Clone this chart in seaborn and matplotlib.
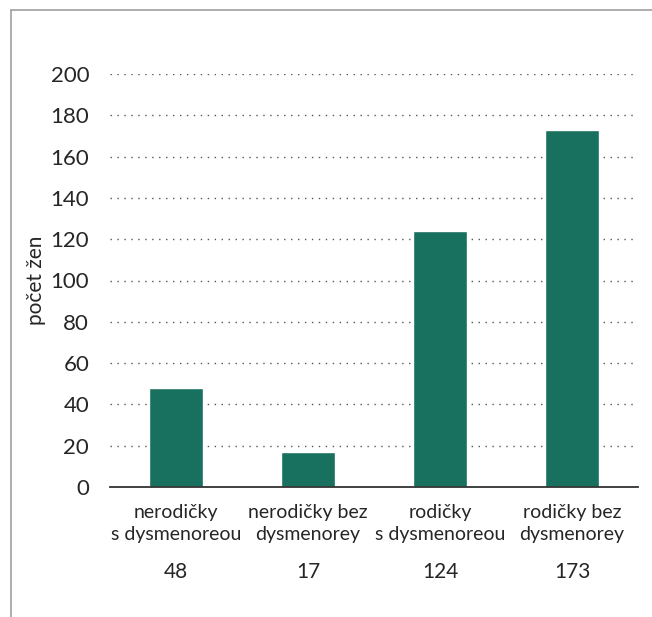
import numpy as np
import matplotlib.pyplot as plt
import seaborn as sns
import pandas as pd
from matplotlib.lines import Line2D

categories = ["nerodičky\ns dysmenoreou", "nerodičky bez\ndysmenorey",
              "rodičky\ns dysmenoreou", "rodičky bez\ndysmenorey"]
counts = [48, 17, 124, 173]
yticks = [0, 20, 40, 60, 80, 100, 120, 140, 160, 180, 200]
ylabel = "počet žen"

BAR_COLOR = "#18705e"
TEXT_COLOR = "#262626"
TICKSIZE = 16
LABELSIZE = 14

sns.set_style("white")
plt.rcParams["font.family"] = ["Lato", "DejaVu Sans"]

df = pd.DataFrame({"cat": categories, "n": counts})

fig = plt.figure(figsize=(6.52, 6.17), dpi=100)
ax = fig.add_axes([110/652, 1-487/617, (638-110)/652, (487-74)/617])
sns.barplot(df, x="cat", y="n", color=BAR_COLOR, width=0.41, ax=ax,
            saturation=1, zorder=3)

ax.set_ylim(0, 200)
ax.set_yticks(yticks)
ax.set_yticklabels(yticks, fontsize=TICKSIZE, color=TEXT_COLOR)
ax.set_xticks(range(len(categories)))
ax.set_xticklabels(categories, fontsize=LABELSIZE, color=TEXT_COLOR,
                   linespacing=1.35)
ax.tick_params(axis="both", length=0)
ax.tick_params(axis="y", pad=15)
ax.tick_params(axis="x", pad=12)
ax.set_xlabel("")
ax.set_ylabel(ylabel, fontsize=15, color=TEXT_COLOR, labelpad=3)

for s in ["top", "right", "left"]:
    ax.spines[s].set_visible(False)
ax.spines["bottom"].set_color("#333333")
ax.spines["bottom"].set_linewidth(1.3)
ax.spines["bottom"].set_zorder(4)

ax.yaxis.grid(True, linestyle=(0, (1, 4)), color="#555555", linewidth=1.0, zorder=0)
ax.xaxis.grid(False)

for i, c in enumerate(counts):
    ax.text(i, -0.207, str(c), transform=ax.get_xaxis_transform(),
            ha="center", va="center", fontsize=15, color=TEXT_COLOR)

# outer frame (top and left)
fig.add_artist(Line2D([11/652, 1], [1-10/617, 1-10/617], color="#a0a0a0", lw=1.2))
fig.add_artist(Line2D([11/652, 11/652], [0, 1-10/617], color="#a0a0a0", lw=1.2))

plt.savefig("out.png", dpi=100)
